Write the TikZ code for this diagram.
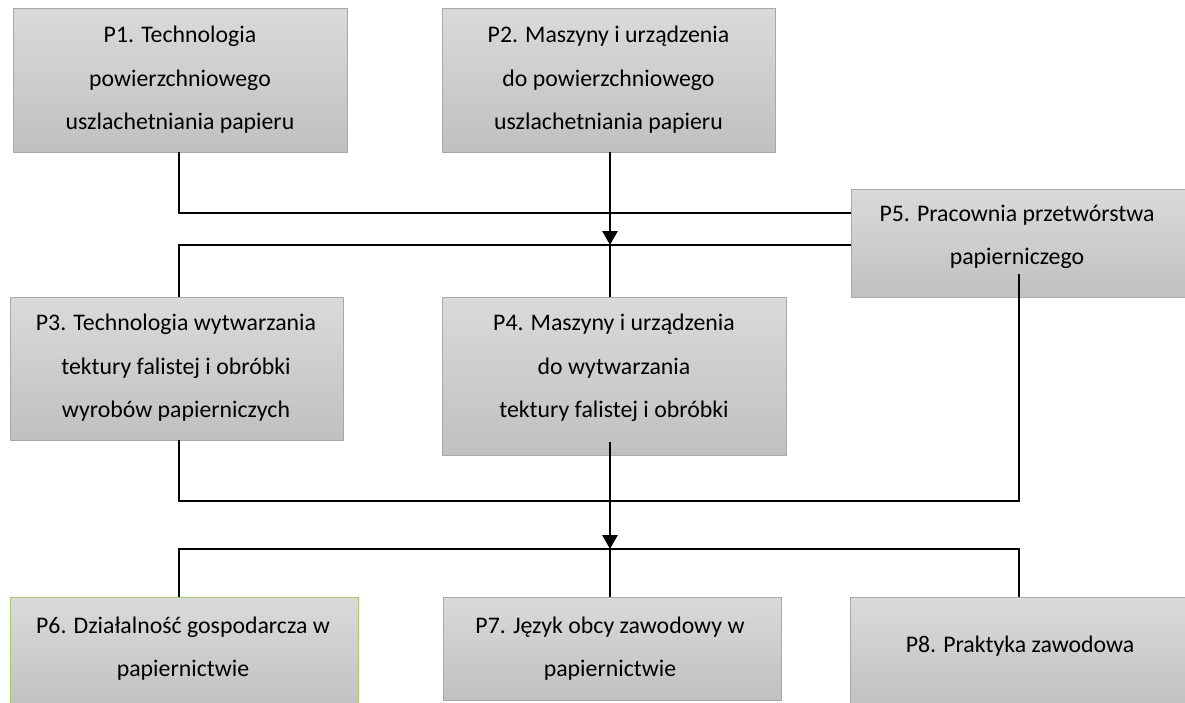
\documentclass[tikz,border=0pt]{standalone}
\usepackage{fontspec}
\setmainfont{Carlito}
\usetikzlibrary{arrows.meta,calc}
\definecolor{boxedge}{RGB}{168,168,168}
\definecolor{boxtop}{RGB}{218,218,218}
\definecolor{boxbot}{RGB}{192,192,192}
\definecolor{greenedge}{RGB}{160,205,100}
\tikzset{
  boxshape/.style={draw=boxedge, line width=0.9pt, top color=boxtop, bottom color=boxbot,
    inner sep=0pt, outer sep=0pt, anchor=north west},
  lbl/.style={font=\fontsize{23.8}{43.5}\selectfont, align=center, inner sep=0pt, text=black},
  conn/.style={line width=2.7pt, black},
  arr/.style={conn, -{Triangle[width=15pt,length=14pt]}},
}
\begin{document}
\begin{tikzpicture}[x=1pt,y=-1pt]
\useasboundingbox (0,0) rectangle (1185,702);
% boxes
\node[boxshape, minimum width=334pt, minimum height=144pt] (p1) at (13,8) {};
\node[boxshape, minimum width=333pt, minimum height=144pt] (p2) at (442,8) {};
\node[boxshape, minimum width=340pt, minimum height=108pt] (p5) at (851,189) {};
\node[boxshape, minimum width=333pt, minimum height=143pt] (p3) at (10,297) {};
\node[boxshape, minimum width=344pt, minimum height=158pt] (p4) at (442,297) {};
\node[boxshape, draw=greenedge, minimum width=348pt, minimum height=115pt] (p6) at (10,597) {};
\node[boxshape, minimum width=338pt, minimum height=103pt] (p7) at (443,597) {};
\node[boxshape, minimum width=345pt, minimum height=115pt] (p8) at (850,597) {};
% texts
\node[lbl] (t1) at (180,80) {P1. Technologia\\powierzchniowego\\uszlachetniania papieru};
\node[lbl] (t2) at (608.5,80) {P2. Maszyny i urządzenia\\do powierzchniowego\\uszlachetniania papieru};
\node[lbl] (t3) at (176,368) {P3. Technologia wytwarzania\\tektury falistej i obróbki\\wyrobów papierniczych};
\node[lbl] (t4) at (614,368) {P4. Maszyny i urządzenia\\do wytwarzania\\tektury falistej i obróbki};
\node[lbl] (t5) at (1017,237) {P5. Pracownia przetwórstwa\\papierniczego};
\node[lbl] (t6) at (183,648.5) {P6. Działalność gospodarcza w\\papiernictwie};
\node[lbl] (t7) at (610,648.5) {P7. Język obcy zawodowy w\\papiernictwie};
\node[lbl] (t8) at (1020,646.5) {P8. Praktyka zawodowa};
% helper coordinates
\coordinate (vl) at (179,0);
\coordinate (vm) at (610,0);
\coordinate (vr) at (1019,0);
\coordinate (h1) at (0,213);
\coordinate (h2) at (0,245);
\coordinate (h3) at (0,501);
\coordinate (h4) at (0,549);
% connectors
\draw[conn] (p1.south -| vl) |- (h1 -| p5.west);
\draw[arr] (p2.south -| vm) -- (h2 -| vm);
\draw[conn] (h2 -| p5.west) -| (p3.north -| vl);
\draw[conn] (h2 -| vm) -- (p4.north -| vm);
\draw[conn] (p3.south -| vl) |- (h3 -| vr) -- ($(p5.south -| vr)+(0,-23)$);
\draw[arr] ($(p4.south -| vm)+(0,-13)$) -- (h4 -| vm);
\draw[conn] (p6.north -| vl) |- (h4 -| vr) -- (p8.north -| vr);
\draw[conn] (h4 -| vm) -- (p7.north -| vm);
\end{tikzpicture}
\end{document}
